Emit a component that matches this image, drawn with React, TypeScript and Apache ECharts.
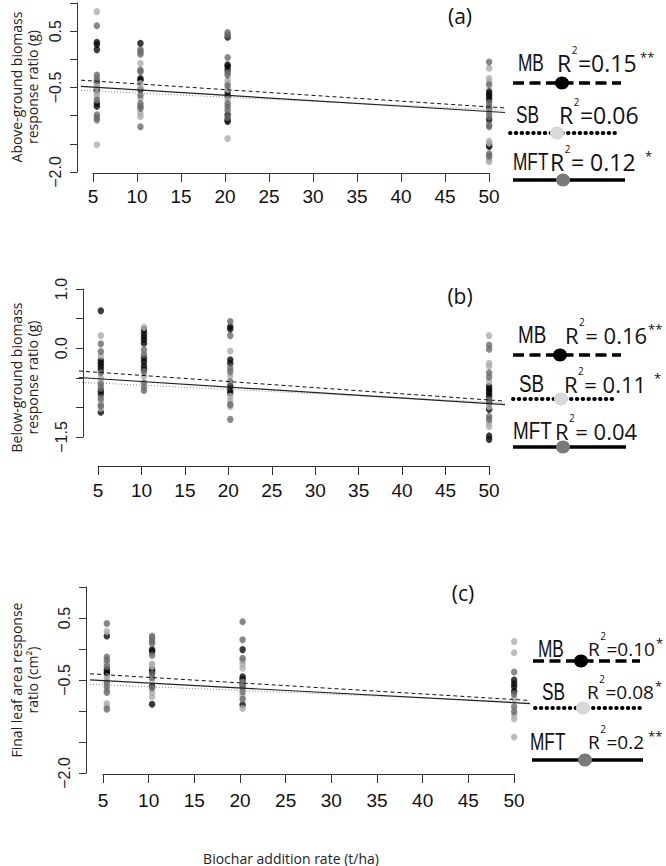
import React, { useEffect, useRef } from 'react';
import * as echarts from 'echarts';

type Col = [number, number[]];

const rateTicks = [5, 10, 15, 20, 25, 30, 35, 40, 45, 50];
const groupNames = ['MB', 'SB', 'MFT'];

// ---- (a) Above-ground biomass response ratio (g)
const aMB: Col[] = [
  [5, [0.29, 0.25, 0.16, -0.41, -0.54, -0.56, -0.79, -0.84]],
  [10, [0.27, -0.35, -0.38, -0.55]],
  [20, [0.38, -0.11, -0.14, -0.2, -0.6, -0.66, -0.99, -1.08, -1.11]],
  [50, [-0.58, -0.63, -0.67, -0.72, -0.88, -1.08, -1.52, -1.55]],
];
const aSB: Col[] = [
  [5, [0.83, -0.33, -0.46, -0.51, -0.61, -0.67, -1.52]],
  [10, [-0.08, -0.44, -0.51, -0.7, -0.96, -1.02]],
  [20, [-0.38, -0.44, -0.54, -0.72, -1.41]],
  [50, [-0.17, -0.35, -0.41, -0.91, -1.46, -1.49, -1.78, -1.82]],
];
const aMFT: Col[] = [
  [5, [0.58, -0.29, -0.38, -0.73, -0.99, -1.04, -1.08]],
  [10, [0.16, 0.12, 0.08, -0.2, -0.23, -0.64, -0.79, -0.84, -0.88, -1.2]],
  [20, [0.46, 0.42, 0.02, -0.25, -0.29, -0.48, -0.79, -0.85, -0.91, -1.04]],
  [50, [-0.06, -0.46, -0.78, -0.84, -0.96, -1.02, -1.17, -1.2, -1.68, -1.72]],
];
const aSlope = [-0.01007, -0.0072, -0.00946];
const aIntercept = [-0.348, -0.537, -0.46];
const aR2 = ['0.15', '0.06', '0.12'];
const aStars = ['**', '', '*'];
const aYLabels = [0.5, -0.5, -2.0];

// ---- (b) Below-ground biomass response ratio (g)
const bMB: Col[] = [
  [5, [0.63, -0.21, -0.26, -0.31, -0.37, -0.73, -0.78, -1.09]],
  [10, [0.31, 0.25, 0.19, 0.14, 0.08, -0.17, -0.23, -0.3, -0.36]],
  [20, [0.36, 0.32, -0.2, -0.26, -0.65, -0.71, -0.76]],
  [50, [-0.65, -0.69, -0.73, -0.77, -0.82, -0.93, -1.04, -1.49, -1.55]],
];
const bSB: Col[] = [
  [5, [0.21, -0.13, -0.51, -0.57, -0.9, -0.96, -1.02]],
  [10, [0.35, -0.48]],
  [20, [-0.05, -0.47, -0.82, -0.9, -0.99]],
  [50, [0.21, -0.26, -0.31, -0.57, -0.99, -1.27, -1.33]],
];
const bMFT: Col[] = [
  [5, [0.07, -0.06, -0.42, -0.62, -0.68, -0.85, -0.98]],
  [10, [-0.03, -0.11, -0.4, -0.59, -0.66, -0.72]],
  [20, [0.45, 0.21, -0.34, -0.4, -0.57, -0.96, -1.21]],
  [50, [0.05, -0.02, -0.42, -0.49, -0.88, -1.16, -1.21]],
];
const bSlope = [-0.01033, -0.00709, -0.00932];
const bIntercept = [-0.364, -0.562, -0.477];
const bR2 = ['0.16', '0.11', '0.04'];
const bStars = ['**', '*', ''];
const bYLabels = [1.0, 0.0, -1.5];

// ---- (c) Final leaf area response ratio (cm2)
const cMB: Col[] = [
  [5, [0.21, -0.33, -0.37, -0.4]],
  [10, [-0.01, -0.04, -0.33, -0.37, -0.6, -0.89]],
  [20, [-0.01, -0.45, -0.49, -0.58, -0.9]],
  [50, [-0.5, -0.56, -0.61, -0.68]],
];
const cSB: Col[] = [
  [5, [0.28, -0.23, -0.45, -0.5, -0.66, -0.88, -0.93]],
  [10, [-0.24, -0.28, -0.5, -0.7, -0.77]],
  [20, [-0.19, -0.24, -0.31, -0.55, -0.76, -0.96]],
  [50, [0.12, -0.06, -0.8, -1.06, -1.13, -1.42]],
];
const cMFT: Col[] = [
  [5, [0.41, -0.13, -0.18, -0.28, -0.55, -0.61, -0.7, -0.97]],
  [10, [0.21, 0.17, 0.13, 0.09, -0.1, -0.4, -0.46, -0.63]],
  [20, [0.44, 0.15, -0.15, -0.53, -0.62, -0.69, -0.81]],
  [50, [-0.37, -0.73, -0.93, -1.01]],
];
const cSlope = [-0.00885, -0.00597, -0.00782];
const cIntercept = [-0.372, -0.551, -0.475];
const cR2 = ['0.10', '0.08', '0.2'];
const cStars = ['*', '*', '**'];
const cYLabels = [0.5, -0.5, -2.0];

const xTitle = 'Biochar addition rate (t/ha)';

// ---- styles
const pointColors = ['#0a0a0a', '#ababab', '#6a6a6a'];
const legendDotColors = ['#000000', '#d8d8d8', '#7a7a7a'];
const fitStyles = [
  { color: '#111', width: 1, type: [4, 3] },
  { color: '#8c8c8c', width: 1, type: [1, 2] },
  { color: '#222', width: 1.2, type: 'solid' },
];

const panels = [
  {
    groups: [aMB, aSB, aMFT], slope: aSlope, intercept: aIntercept, r2: aR2, stars: aStars, yLabels: aYLabels,
    title: 'Above-ground biomass\nresponse ratio (g)', tag: '(a)',
    data: { left: 77, top: 2, width: 428, height: 170, xMin: 3.18, xMax: 51.82 }, nameGap: 41,
    yAx: { left: 77, top: 2, height: 170, min: -2, max: 1 },
    xAx: { left: 93, top: 172, width: 396, margin: 14 },
    tagPos: [460, 16],
    eq: ['=', '=', '= '], valSize: 23, nameScale: 0.75, dy: -1,
    rows: [
      { nameX: 518, ty: 64, rX: 557, valX: 572, starX: 640, lineY: 83, lx0: 513, lx1: 621, cx: 562 },
      { nameX: 516, ty: 116, rX: 559, valX: 572, starX: 0, lineY: 133, lx0: 510, lx1: 615, cx: 557 },
      { nameX: 513, ty: 163, rX: 550, valX: 563, starX: 645, lineY: 180, lx0: 513, lx1: 625, cx: 563 },
    ],
  },
  {
    groups: [bMB, bSB, bMFT], slope: bSlope, intercept: bIntercept, r2: bR2, stars: bStars, yLabels: bYLabels,
    title: 'Below-ground biomass\nresponse ratio (g)', tag: '(b)',
    data: { left: 76, top: 289, width: 429, height: 177, xMin: 2.47, xMax: 51.84 }, nameGap: 39,
    yAx: { left: 83, top: 289, height: 148, min: -1.5, max: 1 },
    xAx: { left: 98, top: 465, width: 391, margin: 15 },
    tagPos: [460, 296],
    eq: ['= ', '= ', '= '], valSize: 22, nameScale: 0.82, dy: -1,
    rows: [
      { nameX: 518, ty: 336, rX: 565, valX: 580, starX: 647, lineY: 355, lx0: 513, lx1: 621, cx: 560 },
      { nameX: 519, ty: 385, rX: 564, valX: 578, starX: 654, lineY: 399, lx0: 513, lx1: 617, cx: 561 },
      { nameX: 513, ty: 432, rX: 555, valX: 568, starX: 0, lineY: 447, lx0: 513, lx1: 626, cx: 563 },
    ],
  },
  {
    groups: [cMB, cSB, cMFT], slope: cSlope, intercept: cIntercept, r2: cR2, stars: cStars, yLabels: cYLabels,
    title: 'Final leaf area response\nratio (cm²)', tag: '(c)',
    data: { left: 86, top: 587, width: 444, height: 186, xMin: 3.14, xMax: 51.75 }, nameGap: 50,
    yAx: { left: 86, top: 587, height: 186, min: -2, max: 1 },
    xAx: { left: 103, top: 773, width: 411, margin: 17 },
    tagPos: [463, 593],
    eq: ['=', '=', '='], valSize: 19, nameScale: 0.75, dy: -3,
    rows: [
      { nameX: 538, ty: 652, rX: 588, valX: 602, starX: 655, lineY: 661, lx0: 533, lx1: 640, cx: 581 },
      { nameX: 542, ty: 695, rX: 587, valX: 601, starX: 654, lineY: 708, lx0: 535, lx1: 640, cx: 583 },
      { nameX: 530, ty: 745, rX: 588, valX: 602, starX: 648, lineY: 760, lx0: 532, lx1: 643, cx: 585 },
    ],
  },
];

const fmt = (v: number) => (v < -1e-9 ? '\u2212' : '') + Math.abs(v).toFixed(1);
const LEG_FONT = '"Open Sans", "Noto Sans", sans-serif';
const NAME_FONT = '"Liberation Sans", Arial, sans-serif';
const NAME_SIZE = 23;

let measureCtx: CanvasRenderingContext2D | null = null;
function textWidth(text: string, size: number, family: string) {
  if (!measureCtx) measureCtx = document.createElement('canvas').getContext('2d');
  if (!measureCtx) return text.length * size * 0.55;
  measureCtx.font = `${size}px ${family}`;
  return measureCtx.measureText(text).width;
}

function buildOption() {
  const grid: any[] = [];
  const xAxis: any[] = [];
  const yAxis: any[] = [];
  const series: any[] = [];
  const graphic: any[] = [];

  panels.forEach((p, pi) => {
    const gi = pi * 3;
    // data grid
    grid.push({ left: p.data.left, top: p.data.top, width: p.data.width, height: p.data.height });
    xAxis.push({ gridIndex: gi, type: 'value', min: p.data.xMin, max: p.data.xMax, show: false });
    yAxis.push({
      gridIndex: gi, type: 'value', min: -2, max: 1,
      axisLine: { show: false }, axisTick: { show: false }, axisLabel: { show: false }, splitLine: { show: false },
      name: p.title, nameLocation: 'middle', nameRotate: 90, nameGap: p.nameGap,
      nameTextStyle: { fontFamily: LEG_FONT, fontSize: 14, lineHeight: 16, color: '#222' },
    });
    // y-axis grid
    grid.push({ left: p.yAx.left, top: p.yAx.top, width: 1, height: p.yAx.height });
    xAxis.push({ gridIndex: gi + 1, type: 'value', min: 0, max: 1, show: false });
    yAxis.push({
      gridIndex: gi + 1, type: 'value', min: p.yAx.min, max: p.yAx.max, interval: 0.5,
      axisLine: { show: true, lineStyle: { color: '#333', width: 1 } },
      axisTick: { show: true, length: 7, lineStyle: { color: '#333', width: 1 } },
      splitLine: { show: false },
      axisLabel: {
        rotate: 90, margin: 14, fontSize: 16, color: '#222', fontFamily: '"Liberation Sans", Arial, sans-serif',
        formatter: (v: number) => (p.yLabels.some((s) => Math.abs(s - v) < 1e-9) ? fmt(v) : ''),
      },
    });
    // x-axis grid
    grid.push({ left: p.xAx.left, top: p.xAx.top, width: p.xAx.width, height: 1 });
    xAxis.push({
      gridIndex: gi + 2, type: 'value', position: 'bottom',
      min: rateTicks[0], max: rateTicks[rateTicks.length - 1], interval: rateTicks[1] - rateTicks[0],
      axisLine: { show: true, lineStyle: { color: '#333', width: 1 } },
      axisTick: { show: true, length: 9, lineStyle: { color: '#333', width: 1 } },
      splitLine: { show: false },
      axisLabel: { margin: p.xAx.margin, fontSize: 19, color: '#111', fontFamily: NAME_FONT },
    });
    yAxis.push({ gridIndex: gi + 2, type: 'value', min: 0, max: 1, show: false });

    p.groups.forEach((g, k) => {
      series.push({
        name: groupNames[k], type: 'scatter', xAxisIndex: gi, yAxisIndex: gi,
        data: g.flatMap(([x, vals]) => vals.map((v) => [x, v])),
        symbol: 'circle', symbolSize: [6.5, 7], itemStyle: { color: pointColors[k] }, z: 2, silent: true,
      });
    });
    p.slope.forEach((s, k) => {
      const x0 = p.data.xMin, x1 = p.data.xMax;
      series.push({
        type: 'line', xAxisIndex: gi, yAxisIndex: gi,
        data: [[x0, p.intercept[k] + s * x0], [x1, p.intercept[k] + s * x1]],
        symbol: 'none', showSymbol: false, lineStyle: fitStyles[k], z: 3, silent: true,
      });
    });

    // panel tag
    graphic.push({ type: 'text', x: p.tagPos[0], y: p.tagPos[1], style: { text: p.tag, fontFamily: LEG_FONT, fontSize: 21, fill: '#111', align: 'center', verticalAlign: 'middle' } });

    // legend
    const vs = p.valSize;
    p.rows.forEach((r, k) => {
      const dash = k === 0 ? [11, 5.5] : k === 1 ? [0.5, 5.3] : null;
      graphic.push({
        type: 'line', z: 10, shape: { x1: r.lx0, y1: r.lineY, x2: r.lx1, y2: r.lineY },
        style: { stroke: '#000', lineWidth: k === 1 ? 4 : 3.5, lineDash: dash, lineCap: k === 1 ? 'round' : 'butt' },
      });
      graphic.push({ type: 'ellipse', z: 11, shape: { cx: r.cx, cy: r.lineY, rx: 7, ry: 6.5 }, style: { fill: legendDotColors[k] } });

      const ty = r.ty + p.dy;
      const wR = textWidth('R', vs, LEG_FONT);
      const val = p.eq[k] + p.r2[k];
      const wVal = textWidth(val, vs, LEG_FONT);
      const w2 = textWidth('2', 10, LEG_FONT);
      const supX = r.rX + wR + 0.5;
      const supY = ty - 13;
      const valX = Math.max(r.valX, supX + w2 + 0.5);
      const starX = Math.max(r.starX, valX + wVal + 1);

      graphic.push({ type: 'text', z: 10, x: r.nameX, y: ty, scaleX: p.nameScale, style: { text: groupNames[k], fontFamily: NAME_FONT, fontSize: NAME_SIZE, lineHeight: 18, fill: '#111', align: 'left', verticalAlign: 'middle' } });
      graphic.push({ type: 'text', z: 10, x: r.rX, y: ty, style: { text: 'R', fontFamily: LEG_FONT, fontSize: vs, lineHeight: 18, fill: '#111', align: 'left', verticalAlign: 'middle' } });
      graphic.push({ type: 'text', z: 10, x: supX, y: supY, style: { text: '2', fontFamily: LEG_FONT, fontSize: 10, lineHeight: 10, fill: '#111', align: 'left', verticalAlign: 'middle' } });
      graphic.push({ type: 'text', z: 10, x: valX, y: ty, style: { text: val, fontFamily: LEG_FONT, fontSize: vs, lineHeight: 18, fill: '#111', align: 'left', verticalAlign: 'middle' } });
      if (p.stars[k]) {
        graphic.push({ type: 'text', z: 10, x: starX, y: ty - 6, style: { text: p.stars[k], fontFamily: LEG_FONT, fontSize: 13, lineHeight: 13, fill: '#111', align: 'left', verticalAlign: 'middle' } });
      }
    });
  });

  graphic.push({ type: 'text', x: 291, y: 858, style: { text: xTitle, fontFamily: LEG_FONT, fontSize: 14, fill: '#222', align: 'center', verticalAlign: 'middle' } });

  return { animation: false, backgroundColor: '#ffffff', grid, xAxis, yAxis, series, graphic };
}

export default function App() {
  const ref = useRef<HTMLDivElement>(null);
  useEffect(() => {
    if (!ref.current) return;
    const chart = echarts.init(ref.current, undefined, { renderer: 'svg' });
    chart.setOption(buildOption() as any);
    return () => chart.dispose();
  }, []);
  return <div ref={ref} style={{ position: 'fixed', left: 0, top: 0, width: 666, height: 866, background: '#fff' }} />;
}
